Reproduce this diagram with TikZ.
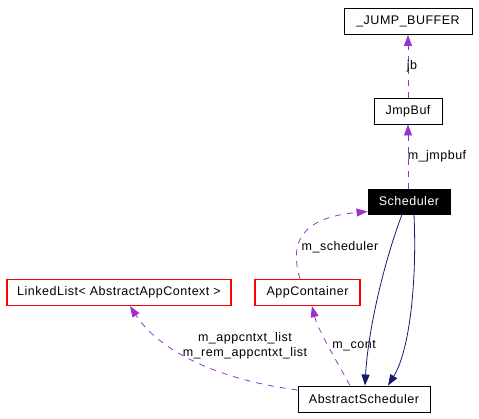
\documentclass[tikz,border=0pt]{standalone}
\usepackage{fontspec}
\setmainfont{Liberation Sans}[LetterSpace=4]
\usetikzlibrary{arrows.meta, positioning}
\definecolor{depPurple}{RGB}{154,50,205}
\definecolor{inhNavy}{RGB}{25,25,112}
\definecolor{boxRed}{RGB}{255,0,0}

\begin{document}
\begin{tikzpicture}[x=1pt, y=-1pt, every node/.style={font=\fontsize{12.5}{15}\selectfont},
		classbox/.style={draw=black, line width=0.9pt, inner sep=0pt, minimum height=26pt},
		redbox/.style={draw=boxRed, line width=1.2pt, inner sep=0pt, minimum height=26pt},
		usage/.style={depPurple, line width=0.8pt, dash pattern=on 6pt off 6pt, -{Triangle[length=11pt, width=8pt]}},
		member/.style={inhNavy, line width=0.8pt, -{Triangle[length=11pt, width=8pt]}}]
	\useasboundingbox (0,0) rectangle (479,419);
	% class boxes
	\node[classbox, minimum width=128pt] (jumpbuf) at (408,21.5) {\_JUMP\_BUFFER};
	\node[classbox, minimum width=68pt] (jmpbuf) at (408,111) {JmpBuf};
	\node[classbox, fill=black, text=white, minimum width=82pt, minimum height=25pt] (scheduler) at (409,201.5) {Scheduler};
	\node[redbox, minimum width=224pt] (linkedlist) at (119,292.5) {LinkedList< AbstractAppContext >};
	\node[redbox, minimum width=105pt] (appcontainer) at (307.5,292.5) {AppContainer};
	\node[classbox, minimum width=132pt] (abstractsched) at (364,399) {AbstractScheduler};
	% usage relations
	\draw[usage] (jmpbuf.north) -- (jumpbuf.south);
	\node (jbLabel) at (412,66) {jb};
	\draw[usage] (scheduler.north -| jmpbuf.south) -- (jmpbuf.south);
	\node (jmpbufLabel) at (437,156) {m\_jmpbuf};
	\draw[usage] ([xshift=-7.5pt]appcontainer.north) .. controls (290,245) and (298,218) .. ([yshift=-10pt]scheduler.west);
	\node (schedLabel) at (340,247) {m\_scheduler};
	\draw[usage] ([xshift=-14pt]abstractsched.north) .. controls (335,358) and (318,330) .. ([xshift=4.5pt]appcontainer.south);
	\node (contLabel) at (354,346) {m\_cont};
	\draw[usage] ([yshift=9pt]abstractsched.west) .. controls (220,380) and (160,352) .. ([xshift=11pt]linkedlist.south);
	\node[align=center, inner sep=0pt] (listLabel) at (245,345.5) {m\_appcntxt\_list\\m\_rem\_appcntxt\_list};
	% direct members
	\draw[member] ([xshift=-7pt]scheduler.south) .. controls (384,262) and (368,330) .. ([xshift=1pt]abstractsched.north);
	\draw[member] ([xshift=5pt]scheduler.south) .. controls (417,280) and (410,350) .. ([xshift=24pt]abstractsched.north);
\end{tikzpicture}
\end{document}
